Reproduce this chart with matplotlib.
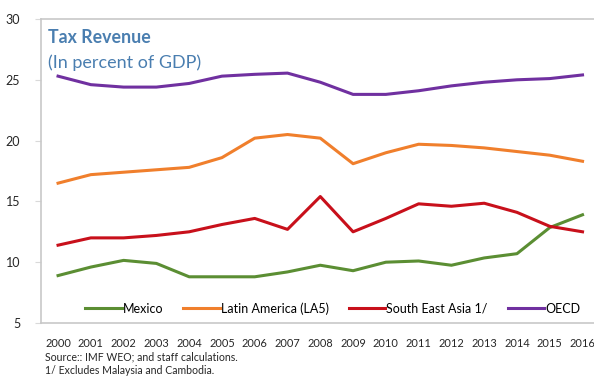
import matplotlib.pyplot as plt

plt.rcParams['font.family'] = ['Lato', 'DejaVu Sans']

years = list(range(2000, 2017))
mexico = [8.9, 9.6, 10.15, 9.9, 8.8, 8.8, 8.8, 9.2, 9.75, 9.3, 10.0, 10.1, 9.75, 10.35, 10.7, 12.85, 13.9]
latam = [16.5, 17.2, 17.4, 17.6, 17.8, 18.6, 20.2, 20.5, 20.2, 18.1, 19.0, 19.7, 19.6, 19.4, 19.1, 18.8, 18.3]
sea = [11.4, 12.0, 12.0, 12.2, 12.5, 13.1, 13.6, 12.7, 15.4, 12.5, 13.6, 14.8, 14.6, 14.85, 14.1, 12.95, 12.5]
oecd = [25.3, 24.6, 24.4, 24.4, 24.7, 25.3, 25.45, 25.55, 24.8, 23.8, 23.8, 24.1, 24.5, 24.8, 25.0, 25.1, 25.4]

series = [
    ('Mexico', mexico, '#5B8E33'),
    ('Latin America (LA5)', latam, '#F07F2C'),
    ('South East Asia 1/', sea, '#C8101B'),
    ('OECD', oecd, '#7030A0'),
]

fig = plt.figure(figsize=(5.94, 3.77), dpi=100)
ax = fig.add_axes([41 / 594, 1 - 323 / 377, 553 / 594, 304 / 377])

for name, vals, col in series:
    ax.plot(years, vals, color=col, lw=2.2, label=name)

ax.set_xlim(1999.48, 2016.35)
ax.set_ylim(5, 30)
ax.set_yticks([5, 10, 15, 20, 25, 30])
ax.set_xticks(years)
ax.tick_params(axis='x', length=0, pad=11, labelsize=7.9)
ax.tick_params(axis='y', length=4, color='#D9D9D9', pad=11, labelsize=9)
for lab in ax.get_xticklabels() + ax.get_yticklabels():
    lab.set_color('#262626')

for side in ['left', 'top', 'bottom']:
    ax.spines[side].set_color('#C8C8C8')
    ax.spines[side].set_linewidth(1.2)
ax.spines['right'].set_visible(False)

ax.legend(loc='lower center', bbox_to_anchor=(0.528, -0.01), ncol=4, frameon=False,
          fontsize=9, handlelength=2.9, columnspacing=1.6, handletextpad=0.1)

# title block in the upper-left corner of the plot area
ax.text(0.013, 0.94, 'Tax Revenue', transform=ax.transAxes, color='#4A7EB0',
        fontsize=12.8, fontweight='bold', va='center')
ax.text(0.013, 0.855, '(In percent of GDP)', transform=ax.transAxes, color='#4A7EB0',
        fontsize=13, va='center')

fig.text(45 / 594, 1 - 357 / 377, 'Source:: IMF WEO; and staff calculations.', fontsize=7.6,
         va='center', color='#262626')
fig.text(45 / 594, 1 - 370 / 377, '1/ Excludes Malaysia and Cambodia.', fontsize=7.6,
         va='center', color='#262626')

fig.savefig('out.png', dpi=100)
